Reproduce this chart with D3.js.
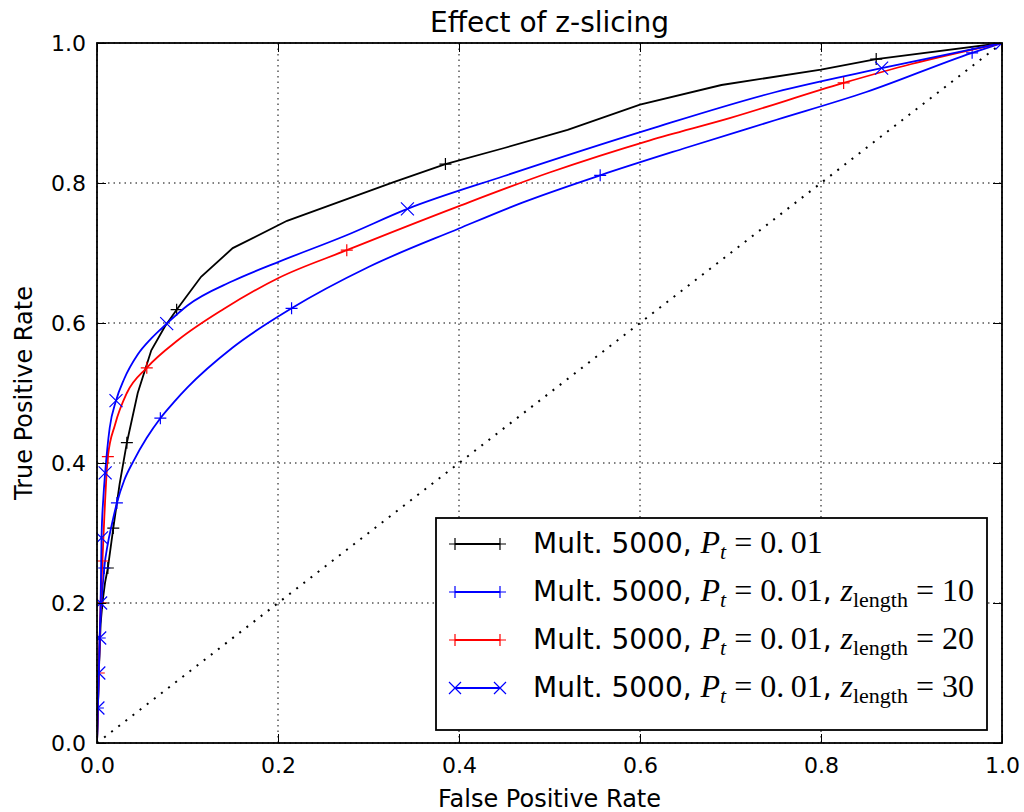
<!DOCTYPE html>
<html>
<head>
<meta charset="utf-8">
<style>
  body { margin: 0; background: #fff; }
</style>
</head>
<body>
<svg width="1024" height="812"></svg>

<script src="https://d3js.org/d3.v7.min.js"></script>
<script>

	// ROC curves as [fpr, tpr]
	const tickValues = [0, 0.2, 0.4, 0.6, 0.8, 1.0]
	const tickLabels = ["0.0", "0.2", "0.4", "0.6", "0.8", "1.0"]

	const rocBase = [[0,0],[0.002,0.1],[0.004,0.17],[0.006,0.2],[0.009,0.23],[0.012,0.25],[0.018,0.307],
		[0.025,0.37],[0.033,0.429],[0.045,0.5],[0.06,0.561],[0.075,0.595],[0.088,0.619],[0.115,0.666],
		[0.15,0.707],[0.21,0.746],[0.327,0.801],[0.385,0.827],[0.45,0.85],[0.52,0.876],[0.6,0.912],
		[0.69,0.94],[0.8,0.962],[0.861,0.977],[1,1]]
	const markBase = [[0.006,0.2],[0.012,0.25],[0.018,0.307],[0.033,0.429],[0.088,0.619],[0.385,0.827],[0.861,0.977],[1,1]]

	const rocZ10 = [[0,0],[0.001,0.05],[0.002,0.1],[0.003,0.15],[0.005,0.2],[0.008,0.25],[0.012,0.285],
		[0.016,0.31],[0.022,0.343],[0.03,0.375],[0.04,0.402],[0.055,0.436],[0.07,0.464],[0.085,0.487],
		[0.1,0.508],[0.15,0.565],[0.215,0.621],[0.3,0.68],[0.4,0.735],[0.47,0.772],[0.556,0.811],
		[0.65,0.85],[0.75,0.89],[0.85,0.93],[0.967,0.986],[1,1]]
	const markZ10 = [[0.001,0.05],[0.003,0.15],[0.008,0.25],[0.022,0.343],[0.07,0.464],[0.215,0.621],[0.556,0.811],[0.967,0.986]]

	const rocZ20 = [[0,0],[0.001,0.05],[0.002,0.1],[0.003,0.15],[0.004,0.2],[0.006,0.26],[0.008,0.32],
		[0.012,0.409],[0.02,0.455],[0.033,0.5],[0.055,0.536],[0.09,0.576],[0.14,0.62],[0.2,0.664],
		[0.276,0.704],[0.4,0.767],[0.5,0.815],[0.611,0.861],[0.7,0.893],[0.825,0.943],[0.9,0.97],[1,1]]
	const markZ20 = [[0.002,0.1],[0.004,0.2],[0.006,0.26],[0.012,0.409],[0.055,0.536],[0.276,0.704],[0.825,0.943],[1,1]]

	const rocZ30 = [[0,0],[0.001,0.05],[0.002,0.1],[0.003,0.15],[0.004,0.2],[0.005,0.293],[0.007,0.35],
		[0.009,0.386],[0.014,0.45],[0.021,0.489],[0.03,0.52],[0.045,0.555],[0.06,0.578],[0.077,0.599],
		[0.1,0.625],[0.15,0.66],[0.2,0.687],[0.275,0.725],[0.343,0.763],[0.45,0.81],[0.611,0.877],
		[0.75,0.93],[0.867,0.964],[1,1]]
	const markZ30 = [[0.001,0.05],[0.002,0.1],[0.003,0.15],[0.004,0.2],[0.005,0.293],[0.009,0.386],
		[0.021,0.489],[0.077,0.599],[0.343,0.763],[0.867,0.964],[1,1]]

	const zLengths = [null, 10, 20, 30]
	const colors = ["#000000", "#0000ff", "#ff0000", "#0000ff"]
	const symbols = ["plus", "plus", "plus", "cross"]

	const series = [
		{roc: rocBase, marks: markBase},
		{roc: rocZ10, marks: markZ10},
		{roc: rocZ20, marks: markZ20},
		{roc: rocZ30, marks: markZ30}
	].map((s, i) => ({...s, z: zLengths[i], color: colors[i], symbol: symbols[i], smooth: i > 0}))

	const width = 1024, height = 812
	const margin = {top: 43, right: 22, bottom: 69, left: 97}
	const w = width - margin.left - margin.right
	const h = height - margin.top - margin.bottom

	const x = d3.scaleLinear().domain([0, 1]).range([0, w])
	const y = d3.scaleLinear().domain([0, 1]).range([h, 0])

	const svg = d3.select("svg")
		.attr("font-family", "'DejaVu Sans', sans-serif")

	svg.append("rect").attr("width", width).attr("height", height).attr("fill", "#fff")

	const g = svg.append("g").attr("transform", `translate(${margin.left},${margin.top})`)

	g.append("clipPath").attr("id", "plot-clip")
		.append("rect").attr("width", w).attr("height", h)

	// dotted grid
	const grid = g.append("g").attr("stroke", "#000").attr("stroke-width", 1).attr("stroke-dasharray", "1.5,4")
	grid.selectAll(".gx").data(tickValues).join("line")
		.attr("x1", d => x(d)).attr("x2", d => x(d)).attr("y1", 0).attr("y2", h)
	grid.selectAll(".gy").data(tickValues).join("line")
		.attr("y1", d => y(d)).attr("y2", d => y(d)).attr("x1", 0).attr("x2", w)

	const plot = g.append("g").attr("clip-path", "url(#plot-clip)")

	// chance line
	plot.append("line")
		.attr("x1", x(0)).attr("y1", y(0)).attr("x2", x(1)).attr("y2", y(1))
		.attr("stroke", "#000").attr("stroke-width", 2)
		.attr("stroke-dasharray", "2,7")

	const lineLinear = d3.line().x(d => x(d[0])).y(d => y(d[1]))
	const lineSmooth = d3.line().x(d => x(d[0])).y(d => y(d[1])).curve(d3.curveMonotoneX)

	function markerPath(sym, r) {
		if (sym === "plus") return `M${-r},0H${r}M0,${-r}V${r}`
		return `M${-r},${-r}L${r},${r}M${-r},${r}L${r},${-r}`
	}

	series.forEach(s => {
		plot.append("path")
			.datum(s.roc)
			.attr("fill", "none")
			.attr("stroke", s.color)
			.attr("stroke-width", 1.8)
			.attr("d", s.smooth ? lineSmooth : lineLinear)

		plot.append("g").selectAll("path")
			.data(s.marks)
			.join("path")
				.attr("transform", d => `translate(${x(d[0])},${y(d[1])})`)
				.attr("d", markerPath(s.symbol, s.symbol === "cross" ? 6.5 : 6))
				.attr("stroke", s.color)
				.attr("stroke-width", 1.2)
				.attr("fill", "none")
	})

	// axes, ticks pointing inward on all four sides
	const fmt = d => tickLabels[tickValues.indexOf(d)]
	const xAxis = g.append("g").attr("transform", `translate(0,${h})`)
		.call(d3.axisBottom(x).tickValues(tickValues).tickFormat(fmt).tickSizeInner(-9).tickSizeOuter(0).tickPadding(14))
	const yAxis = g.append("g")
		.call(d3.axisLeft(y).tickValues(tickValues).tickFormat(fmt).tickSizeInner(-9).tickSizeOuter(0).tickPadding(11))
	const xTop = g.append("g")
		.call(d3.axisTop(x).tickValues(tickValues).tickFormat("").tickSizeInner(-9).tickSizeOuter(0))
	const yRight = g.append("g").attr("transform", `translate(${w},0)`)
		.call(d3.axisRight(y).tickValues(tickValues).tickFormat("").tickSizeInner(-9).tickSizeOuter(0))

	;[xAxis, yAxis, xTop, yRight].forEach(a => {
		a.select(".domain").remove()
		a.selectAll(".tick line").attr("stroke", "#000").attr("stroke-width", 1)
		a.selectAll("text").attr("font-size", 22).attr("fill", "#000")
			.attr("font-family", "'DejaVu Sans', sans-serif")
	})

	g.append("rect").attr("width", w).attr("height", h)
		.attr("fill", "none").attr("stroke", "#000").attr("stroke-width", 1.8)

	// titles
	svg.append("text")
		.attr("x", margin.left + w / 2).attr("y", 32)
		.attr("text-anchor", "middle").attr("font-size", 28)
		.text("Effect of z-slicing")

	svg.append("text")
		.attr("x", margin.left + w / 2).attr("y", 807)
		.attr("text-anchor", "middle").attr("font-size", 24)
		.text("False Positive Rate")

	svg.append("text")
		.attr("transform", `translate(32,${margin.top + h / 2}) rotate(-90)`)
		.attr("text-anchor", "middle").attr("font-size", 24)
		.text("True Positive Rate")

	// legend
	const legend = svg.append("g")
	legend.append("rect")
		.attr("x", 436).attr("y", 518).attr("width", 551).attr("height", 212)
		.attr("fill", "#fff").attr("stroke", "#000").attr("stroke-width", 1.8)

	const serif = "'Liberation Serif', 'DejaVu Serif', serif"

	series.forEach((s, i) => {
		const cy = 544 + i * 48
		legend.append("line")
			.attr("x1", 455).attr("x2", 500).attr("y1", cy).attr("y2", cy)
			.attr("stroke", s.color).attr("stroke-width", 1.8)
		legend.selectAll(null).data([455, 500]).join("path")
			.attr("transform", d => `translate(${d},${cy})`)
			.attr("d", markerPath(s.symbol, 6))
			.attr("stroke", s.color).attr("stroke-width", 1.2)

		const t = legend.append("text")
			.attr("x", 533).attr("y", cy + 9)
			.attr("font-size", 28)
		t.append("tspan").text("Mult. 5000, ")
		t.append("tspan").attr("font-family", serif).attr("font-style", "italic").attr("font-size", 32).text("P")
		t.append("tspan").attr("font-family", serif).attr("font-style", "italic").attr("font-size", 22).attr("dy", 6).text("t")
		t.append("tspan").attr("font-family", serif).attr("font-size", 32).attr("dy", -6).text(" = 0.\u200901")
		if (s.z !== null) {
			t.append("tspan").text(", ")
			t.append("tspan").attr("font-family", serif).attr("font-style", "italic").attr("font-size", 32).text("z")
			t.append("tspan").attr("font-family", serif).attr("font-size", 22).attr("dy", 6).text("length")
			t.append("tspan").attr("font-family", serif).attr("font-size", 32).attr("dy", -6).text(" = " + s.z)
		}
	})

</script>
</body>
</html>
